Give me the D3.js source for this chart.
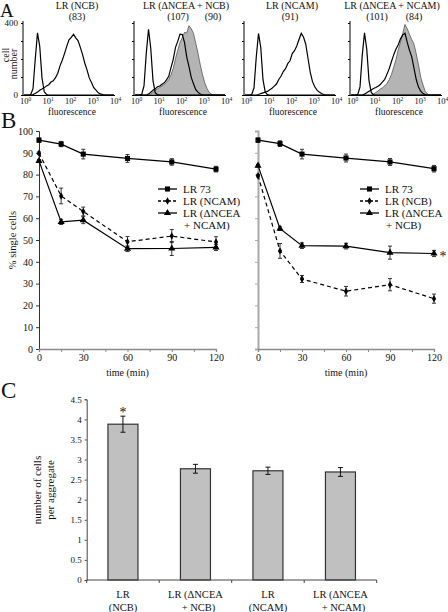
<!DOCTYPE html>
<html><head><meta charset="utf-8">
<script src="https://cdn.jsdelivr.net/npm/d3@7"></script>
<style>
body{margin:0;background:#fff}
svg{display:block}
text{font-family:"Liberation Serif","DejaVu Serif",serif;fill:#111}
</style>
</head><body>
<svg id="c" width="448" height="612"></svg>
<script>
// ---------------- DATA ----------------
// Panel A: histogram bins in log10(fluorescence)
const binsLog = [0,0.1,0.2,0.3,0.4,0.5,0.6,0.7,0.8,0.9,
 1.0,1.1,1.2,1.3,1.4,1.5,1.6,1.7,1.8,1.9,
 2.0,2.1,2.2,2.3,2.4,2.5,2.6,2.7,2.8,2.9,
 3.0,3.1,3.2,3.3,3.4,3.5,3.6,3.7,3.8,3.9,4.0];
const h1Control = [0,0,0,3,35,200,345,270,95,18, 3,0,0,0,0,0,0,0,0,0, 0,0,0,0,0,0,0,0,0,0, 0,0,0,0,0,0,0,0,0,0, 0];
const h1Sample  = [0,0,0,0,2,8,16,26,33,41, 50,57,72,79,96,121,162,193,230,270, 306,320,337,317,302,266,226,178,140,95, 70,41,27,12,6,2,0,0,0,0, 0];
const h2Control = [0,0,0,4,50,230,365,260,80,12, 2,0,0,0,0,0,0,0,0,0, 0,0,0,0,0,0,0,0,0,0, 0,0,0,0,0,0,0,0,0,0, 0];
const h2Black   = [0,0,0,0,0,0,5,15,26,34, 46,50,60,68,84,104,152,198,265,298, 338,336,292,210,158,98,62,30,16,5, 0,0,0,0,0,0,0,0,0,0, 0];
const h2Gray    = [0,0,0,0,0,0,0,5,14,26, 34,43,50,59,70,86,112,148,202,248, 292,318,348,345,385,368,342,288,232,168, 112,68,36,14,5,0,0,0,0,0, 0];
const h3Control = [0,0,0,3,40,210,342,265,85,15, 2,0,0,0,0,0,0,0,0,0, 0,0,0,0,0,0,0,0,0,0, 0,0,0,0,0,0,0,0,0,0, 0];
const h3Sample  = [0,0,0,0,0,0,3,8,12,16, 20,29,37,49,61,86,104,130,146,174, 190,230,246,272,308,342,322,282,204,126, 74,46,27,16,8,3,0,0,0,0, 0];
const h4Control = [0,0,0,3,45,220,345,255,80,14, 2,0,0,0,0,0,0,0,0,0, 0,0,0,0,0,0,0,0,0,0, 0,0,0,0,0,0,0,0,0,0, 0];
const h4Black   = [0,0,0,0,0,0,5,12,21,28, 36,42,49,58,73,87,116,147,186,224, 256,279,312,334,343,292,248,212,148,86, 44,21,8,2,0,0,0,0,0,0, 0];
const h4Gray    = [0,0,0,0,0,0,0,0,0,0, 5,14,22,33,40,51,64,86,114,156, 198,252,294,342,392,368,336,308,282,228, 166,98,56,20,5,0,0,0,0,0, 0];
const histTitles = ["LR (NCB)", "LR (\u0394NCEA + NCB)", "LR (NCAM)", "LR (\u0394NCEA + NCAM)"];
const histMeans = [["(83)"], ["(107)","(90)"], ["(91)"], ["(101)","(84)"]];
const histDecades = [0,1,2,3,4];
const histYTicks = [0,100,200,300,400];

// Panel B: time course (% single cells)
const times = [0,15,30,60,90,120];
const timeTicks = [0,15,30,45,60,75,90,105,120];
const pctTicks = [0,10,20,30,40,50,60,70,80,90,100];
const lr73L   = [95.8, 94.0, 89.4, 87.4, 85.8, 82.5];
const lr73LErr= [1.0, 1.2, 2.2, 1.8, 1.5, 1.3];
const ncam    = [89.8, 70.2, 63.1, 49.2, 51.8, 49.1];
const ncamErr = [0.6, 3.6, 2.0, 2.4, 3.0, 2.4];
const dNcam   = [86.3, 58.3, 59.1, 46.0, 46.1, 46.6];
const dNcamErr= [0.6, 1.2, 1.6, 1.3, 3.2, 1.4];
const lr73R   = [95.8, 94.2, 89.4, 87.6, 85.8, 82.7];
const lr73RErr= [1.0, 1.3, 2.2, 1.8, 1.6, 1.5];
const ncb     = [79.5, 45.0, 32.1, 26.5, 29.5, 23.1];
const ncbErr  = [0.6, 3.4, 1.6, 2.2, 2.8, 2.1];
const dNcb    = [84.1, 55.2, 47.4, 47.2, 44.2, 43.8];
const dNcbErr = [0.6, 0.8, 1.3, 1.3, 3.0, 1.4];
const legendL = ["LR 73", "LR (NCAM)", "LR (\u0394NCEA", "+ NCAM)"];
const legendR = ["LR 73", "LR (NCB)", "LR (\u0394NCEA", "+ NCB)"];

// Panel C: cells per aggregate
const cCats = ["LR (NCB)", "LR (\u0394NCEA + NCB)", "LR (NCAM)", "LR (\u0394NCEA + NCAM)"];
const cLines = [["LR","(NCB)"],["LR (\u0394NCEA","+ NCB)"],["LR","(NCAM)"],["LR (\u0394NCEA","+ NCAM)"]];
const cVals = [3.88, 2.77, 2.72, 2.69];
const cErr  = [0.20, 0.11, 0.09, 0.11];
const cTicks = [0,0.5,1,1.5,2,2.5,3,3.5,4,4.5];

// ---------------- DRAW ----------------
const svg = d3.select("#c");

[["A",0,17,19],["B",1,128,23],["C",1,398,23]].forEach(([t,x,y,s]) =>
  svg.append("text").attr("x",x).attr("y",y).attr("font-size",s).text(t));

// ----- Panel A -----
const histDefs = [
  {x0:23,  tx:77,  mx:[77],      control:h1Control, black:h1Sample, gray:null},
  {x0:134, tx:186, mx:[178,213], control:h2Control, black:h2Black,  gray:h2Gray},
  {x0:244, tx:292, mx:[290],     control:h3Control, black:h3Sample, gray:null},
  {x0:350, tx:392, mx:[377,414], control:h4Control, black:h4Black,  gray:h4Gray}
];
const yH = d3.scaleLinear().domain([0,400]).range([95,23]);
histDefs.forEach((h,i) => {
  const g = svg.append("g");
  const xH = d3.scaleLog().domain([1,1e4]).range([h.x0+1, h.x0+91]);
  const pts = arr => arr.map((v,k) => [Math.pow(10, binsLog[k]), v]);
  if (h.gray) {
    g.append("path").datum(pts(h.gray))
      .attr("d", d3.area().x(d=>xH(d[0])).y0(yH(0)).y1(d=>yH(d[1])))
      .attr("fill","#b4b4b4").attr("stroke","#555").attr("stroke-width",0.8);
  }
  const ln = d3.line().x(d=>xH(d[0])).y(d=>yH(d[1]));
  g.append("path").datum(pts(h.black)).attr("d", ln).attr("fill","none").attr("stroke","#000").attr("stroke-width",1.2);
  g.append("path").datum(pts(h.control)).attr("d", ln).attr("fill","none").attr("stroke","#000").attr("stroke-width",1.2);
  // axes
  const ya = g.append("g").attr("transform",`translate(${h.x0},0)`)
    .call(d3.axisLeft(yH).tickValues(histYTicks).tickSize(2).tickFormat(d => (i===0 && (d===0||d===400)) ? d : ""));
  ya.select(".domain").attr("stroke","#000").attr("d",`M0,${yH(0)}V21`);
  ya.selectAll("text").attr("font-size",9).attr("font-family",'"Liberation Serif",serif').attr("fill","#111");
  g.append("line").attr("x1",h.x0).attr("x2",h.x0+92).attr("y1",yH(0)+0.5).attr("y2",yH(0)+0.5).attr("stroke","#000");
  histDecades.forEach(d => {
    const t = g.append("text").attr("x", xH(Math.pow(10,d))+1.5).attr("y",104).attr("font-size",8.5).attr("text-anchor","middle");
    t.append("tspan").text("10");
    t.append("tspan").attr("font-size",5.5).attr("dy",-3.5).text(d);
  });
  g.append("text").attr("x",h.x0+49).attr("y",114.5).attr("font-size",9.5).attr("text-anchor","middle").text("fluorescence");
  g.append("text").attr("x",h.tx).attr("y",9).attr("font-size",10).attr("text-anchor","middle").text(histTitles[i]);
  histMeans[i].forEach((m,k) => g.append("text").attr("x",h.mx[k]).attr("y",20).attr("font-size",10).attr("text-anchor","middle").text(m));
});
svg.append("text").attr("transform","translate(9,55) rotate(-90)").attr("font-size",10).attr("text-anchor","middle").text("cell");
svg.append("text").attr("transform","translate(17,64) rotate(-90)").attr("font-size",10).attr("text-anchor","middle").text("number");

// ----- Panel B -----
const yB = d3.scaleLinear().domain([0,100]).range([349,131]);
const xBL = d3.scaleLinear().domain([0,120]).range([39,216]);
const xBR = d3.scaleLinear().domain([0,120]).range([258,434]);

function styleAxis(sel, color, width) {
  sel.select(".domain").attr("stroke",color).attr("stroke-width",width);
  sel.selectAll(".tick line").attr("stroke",color);
  sel.selectAll("text").attr("font-size",10).attr("font-family",'"Liberation Serif",serif').attr("fill","#111");
}

const markers = {
  square: d3.symbol(d3.symbolSquare, 26),
  diamond: d3.symbol(d3.symbolDiamond, 16),
  triangle: d3.symbol(d3.symbolTriangle, 22)
};

function drawB(xs, showLabels, yColor, yWidth, series, legend, lx) {
  const g = svg.append("g");
  const ya = g.append("g").attr("transform",`translate(${xs(0)},0)`)
    .call(d3.axisLeft(yB).tickValues(pctTicks).tickSize(3).tickPadding(3).tickFormat(d => showLabels ? d : ""));
  styleAxis(ya, yColor, yWidth);
  const xa = g.append("g").attr("transform",`translate(0,${yB(0)})`)
    .call(d3.axisBottom(xs).tickValues(timeTicks).tickSize(3).tickPadding(2).tickFormat(d => d%30===0 ? d : ""));
  styleAxis(xa, "#8a8a8a", 1.3);
  g.append("text").attr("x",(xs(0)+xs(120))/2).attr("y",376).attr("font-size",10).attr("text-anchor","middle").text("time (min)");

  series.forEach(s => {
    const line = d3.line().x((v,k)=>xs(times[k])).y(v=>yB(v));
    g.append("path").datum(s.vals).attr("d",line).attr("fill","none").attr("stroke","#000")
      .attr("stroke-width",1.2).attr("stroke-dasharray", s.dash ? "4,3" : null);
    s.vals.forEach((v,k) => {
      const x = xs(times[k]), e = s.err[k];
      g.append("path").attr("d",`M${x},${yB(v-e)}V${yB(v+e)}M${x-2},${yB(v-e)}H${x+2}M${x-2},${yB(v+e)}H${x+2}`)
        .attr("stroke","#222").attr("stroke-width",0.9).attr("fill","none");
      g.append("path").attr("d",markers[s.mark]()).attr("transform",`translate(${x},${yB(v)})`).attr("fill","#000");
    });
  });
  // legend
  const ly = [189,201,213,225];
  series.forEach((s,k) => {
    g.append("line").attr("x1",lx).attr("x2",lx+19).attr("y1",ly[k]).attr("y2",ly[k])
      .attr("stroke","#000").attr("stroke-width",1.3).attr("stroke-dasharray", s.dash ? "3,2" : null);
    g.append("path").attr("d",markers[s.mark]()).attr("transform",`translate(${lx+9.5},${ly[k]})`).attr("fill","#000");
  });
  legend.forEach((t,k) => g.append("text").attr("x", lx+25 + (k===3 ? 1 : 0)).attr("y", ly[k]+4).attr("font-size",11).text(t));
}

drawB(xBL, true, "#333", 1, [
  {vals:lr73L, err:lr73LErr, mark:"square", dash:false},
  {vals:ncam, err:ncamErr, mark:"diamond", dash:true},
  {vals:dNcam, err:dNcamErr, mark:"triangle", dash:false}
], legendL, 158);
drawB(xBR, false, "#aaa", 2, [
  {vals:lr73R, err:lr73RErr, mark:"square", dash:false},
  {vals:ncb, err:ncbErr, mark:"diamond", dash:true},
  {vals:dNcb, err:dNcbErr, mark:"triangle", dash:false}
], legendR, 360);
svg.append("text").attr("x",443).attr("y",yB(dNcb[5])+7).attr("font-size",14).attr("text-anchor","middle").text("*");
svg.append("text").attr("transform",`translate(16,${yB(50)}) rotate(-90)`).attr("font-size",10.5).attr("text-anchor","middle").text("% single cells");

// ----- Panel C -----
const xC = d3.scaleBand().domain(cCats).range([86.7,376.7]);
const yC = d3.scaleLinear().domain([0,4.5]).range([580,399.3]);
const gC = svg.append("g");
const barW = xC.bandwidth()*0.414;
cCats.forEach((c,i) => {
  const cx = xC(c) + xC.bandwidth()/2;
  gC.append("rect").attr("x",cx-barW/2).attr("y",yC(cVals[i])).attr("width",barW).attr("height",yC(0)-yC(cVals[i]))
    .attr("fill","#c0c0c0").attr("stroke","#333").attr("stroke-width",1.2);
  const e = cErr[i];
  gC.append("path").attr("d",`M${cx},${yC(cVals[i]-e)}V${yC(cVals[i]+e)}M${cx-2.5},${yC(cVals[i]-e)}H${cx+2.5}M${cx-2.5},${yC(cVals[i]+e)}H${cx+2.5}`)
    .attr("stroke","#111").attr("stroke-width",1).attr("fill","none");
  cLines[i].forEach((t,k) => gC.append("text").attr("x",cx + (k===1 && t.startsWith("+") ? 3 : 0)).attr("y",598+k*12.5)
    .attr("font-size",10.5).attr("text-anchor","middle").text(t));
});
const yCa = gC.append("g").attr("transform",`translate(86.7,0)`)
  .call(d3.axisLeft(yC).tickValues(cTicks).tickSize(2).tickPadding(3).tickFormat(d => d));
styleAxis(yCa, "#444", 1);
yCa.selectAll("text").attr("font-size",9);
const xCa = gC.append("g").attr("transform",`translate(0,${yC(0)})`);
xCa.append("line").attr("x1",86.7).attr("x2",376.7).attr("stroke","#444");
[0,1,2,3].forEach(i => xCa.append("line").attr("x1",xC(cCats[i])).attr("x2",xC(cCats[i])).attr("y1",0).attr("y2",3).attr("stroke","#444"));
xCa.append("line").attr("x1",376.7).attr("x2",376.7).attr("y1",0).attr("y2",3).attr("stroke","#444");
gC.append("text").attr("x",xC(cCats[0])+xC.bandwidth()/2).attr("y",yC(cVals[0]+cErr[0])+1).attr("font-size",14).attr("text-anchor","middle").text("*");
gC.append("text").attr("transform","translate(41,490) rotate(-90)").attr("font-size",11).attr("text-anchor","middle").text("number of cells");
gC.append("text").attr("transform","translate(54,490) rotate(-90)").attr("font-size",11).attr("text-anchor","middle").text("per aggregate");
</script>
</body></html>
